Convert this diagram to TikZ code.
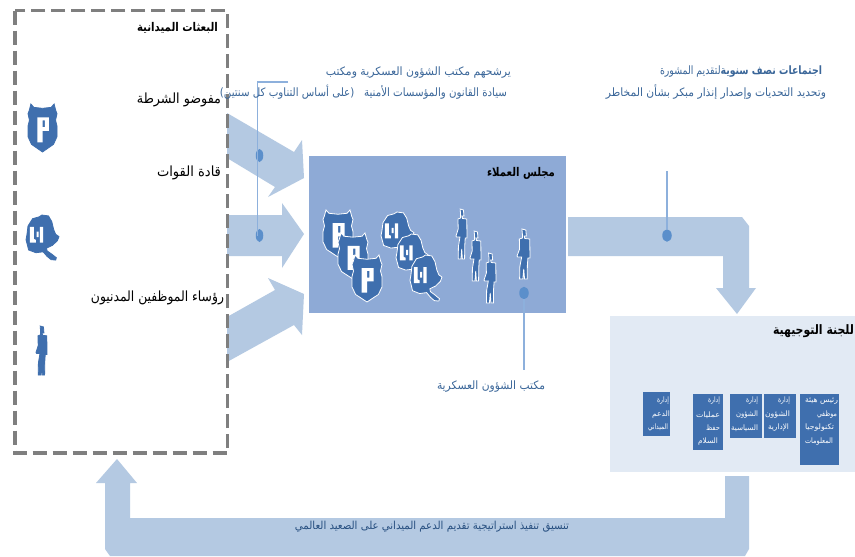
\documentclass[tikz,border=0pt]{standalone}
\usepackage{fontspec}
\usepackage{graphicx}
\newfontfamily\arabicfont[Script=Arabic]{DejaVu Sans}
\TeXXeTstate=1
\usetikzlibrary{shapes.geometric}
\definecolor{arrowblue}{HTML}{B4C9E2}
\definecolor{councilblue}{HTML}{8EAAD6}
\definecolor{steerblue}{HTML}{E2EAF4}
\definecolor{iconblue}{HTML}{3F6FAE}
\definecolor{calloutline}{HTML}{8DB0DC}
\definecolor{blobblue}{HTML}{5B8FCB}
\definecolor{bluetext}{HTML}{3A6699}
\definecolor{darkblue}{HTML}{274F80}
\definecolor{framegray}{HTML}{7F7F7F}
\newcommand{\ar}[3]{\fontsize{#1}{#1}\selectfont\resizebox*{#2pt}{\totalheight}{\arabicfont #3}}
\newcommand{\arb}[3]{\fontsize{#1}{#1}\selectfont\resizebox*{#2pt}{\totalheight}{\arabicfont\bfseries #3}}
\tikzset{
  x=1pt,y=-1pt,
  blockarrow/.style={fill=arrowblue,draw=none},
  lbl/.style={inner sep=0pt,outer sep=0pt,anchor=east},
  smalllbl/.style={lbl,text=white},
  callout/.style={draw=calloutline,line width=1.1pt},
  blobv/.style={ellipse,fill=blobblue,draw=none,minimum width=7.5pt,minimum height=13pt,inner sep=0pt},
  blobw/.style={ellipse,fill=blobblue,draw=none,minimum width=9.5pt,minimum height=12.5pt,inner sep=0pt},
  deptbox/.style={fill=iconblue,draw=none}
}
\newcommand{\shieldicon}[5]{\begin{scope}[shift={(#1,#2)},xscale=#3,yscale=#4]
 \filldraw[fill=iconblue,draw=#5,line width=.8pt] (.04,.14)--(.1,0)--(.2,.07)--(.5,.09)--(.8,.07)--(.9,0)--(.96,.14)--(1,.2)--(.95,.34)--(1,.46)--(1,.68)--(.88,.84)--(.5,1)--(.12,.84)--(0,.68)--(0,.46)--(.05,.34)--(0,.2)--cycle;
 \fill[white,even odd rule] (.32,.28)--(.72,.28)--(.72,.56)--(.5,.56)--(.5,.8)--(.32,.8)--cycle (.5,.34)--(.58,.34)--(.58,.48)--(.5,.48)--cycle;
\end{scope}}
\newcommand{\helmeticon}[5]{\begin{scope}[shift={(#1,#2)},xscale=#3,yscale=#4]
 \filldraw[fill=iconblue,draw=#5,line width=.8pt] (.06,.24)--(.2,.08)--(.4,.04)--(.48,0)--(.68,.02)--(.78,.14)--(.84,.32)--(.9,.42)--(1,.47)--(.95,.56)--(.8,.66)--(.62,.72)--(.64,.78)--(.78,.85)--(.92,.93)--(.9,.98)--(.76,.97)--(.64,.9)--(.52,.8)--(.3,.82)--(.08,.76)--(.03,.62)--(0,.54)--(.03,.42)--cycle;
 \fill[white] (.12,.26)--(.24,.26)--(.24,.52)--(.3,.54)--(.3,.6)--(.12,.6)--cycle (.42,.26)--(.52,.26)--(.52,.6)--(.42,.6)--cycle (.32,.36)--(.38,.36)--(.38,.48)--(.32,.48)--cycle;
\end{scope}}
\newcommand{\personicon}[5]{\begin{scope}[shift={(#1,#2)},xscale=#3,yscale=#4]
 \filldraw[fill=iconblue,draw=#5,line width=.8pt] (.38,0)--(.68,.02)--(.72,.14)--(.55,.14)--(.6,.19)--(.98,.2)--(1,.58)--(.84,.58)--(.8,.72)--(.78,1)--(.58,1)--(.52,.8)--(.45,1)--(.2,1)--(.22,.75)--(.36,.56)--(.05,.56)--(0,.54)--(.2,.4)--(.18,.2)--(.42,.18)--(.42,.12)--cycle;
\end{scope}}
\begin{document}
\begin{tikzpicture}
\useasboundingbox (0,0) rectangle (855,557);
\fill[white] (0,0) rectangle (855,557);
\path[fill=councilblue] (309,156) rectangle (566,313);
\path[fill=steerblue] (610,316) rectangle (855,472);
\path[blockarrow] (227,113)--(294,152)--(302,140)--(304,178)--(268,197)--(275,187)--(227,158)--cycle;
\path[blockarrow] (227,215)--(282,215)--(282,203)--(304,234)--(282,268)--(282,256)--(227,256)--cycle;
\path[blockarrow] (227,317)--(275,290)--(268,278)--(304,294)--(302,335)--(294,325)--(227,362)--cycle;
\path[blockarrow] (568,217)--(742,217)--(749,226)--(749,288)--(756,288)--(737,314)--(716,288)--(723,288)--(723,256)--(568,256)--cycle;
\path[blockarrow] (725,476)--(749,476)--(749,549)--(745,556)--(110,556)--(105,549)--(105,483)--(96,483)--(117,459)--(137,483)--(130,483)--(130,518)--(725,518)--cycle;
\coordinate (ca) at (288,82);
\coordinate (cb) at (257.5,82);
\coordinate (cc) at (667,171);
\coordinate (cd) at (524,370);
\node[blobv] (blobA) at (259.5,155.5) {};
\node[blobv] (blobB) at (259.5,235.5) {};
\node[blobw] (blobC) at (667,235.5) {};
\node[blobw] (blobD) at (524,293) {};
\draw[callout] (ca)--(cb)--(cb|-blobB);
\draw[callout] (cc)--(blobC);
\draw[callout] (blobD)--(cd);
\draw[draw=framegray,line width=3.7pt,dash pattern=on 14.5pt off 5.5pt] (15,10.5) rectangle (227.5,453);
\shieldicon{28}{104}{29}{48}{iconblue}
\helmeticon{26}{215}{33}{46}{iconblue}
\personicon{36}{326}{11}{49}{iconblue}
\shieldicon{323}{210}{30}{47}{white}
\shieldicon{338}{233}{30}{46}{white}
\shieldicon{352}{255}{30}{47}{white}
\helmeticon{381}{212}{33}{44}{white}
\helmeticon{396}{234}{32}{44}{white}
\helmeticon{410}{255}{32}{47}{white}
\personicon{456}{209}{11}{50}{white}
\personicon{470}{231}{11}{50}{white}
\personicon{484}{253}{12}{50}{white}
\personicon{517}{229}{13}{50}{white}
\path[deptbox] (643,392) rectangle (670,436);
\path[deptbox] (693,394) rectangle (723,450);
\path[deptbox] (730,394) rectangle (762,438);
\path[deptbox] (764,394) rectangle (796,438);
\path[deptbox] (800,394) rectangle (839,465);
\node[lbl] (t1) at (218,28) {\arb{12}{81}{\beginR البعثات الميدانية\endR}};
\node[lbl] (t2) at (221,100) {\ar{14}{84}{\beginR مفوضو الشرطة\endR}};
\node[lbl] (t3) at (221,173) {\ar{14}{64}{\beginR قادة القوات\endR}};
\node[lbl] (t4) at (224,298) {\ar{14}{133}{\beginR رؤساء الموظفين المدنيون\endR}};
\node[lbl,text=bluetext] (t5) at (511,73) {\ar{11.5}{185}{\beginR يرشحهم مكتب الشؤون العسكرية ومكتب\endR}};
\node[lbl,text=bluetext] (t6) at (507,92) {\ar{11.5}{287}{\beginR سيادة القانون والمؤسسات الأمنية \ \ (على أساس التناوب كل سنتين)\endR}};
\node[lbl,text=bluetext] (t7) at (822,72) {\ar{11.5}{162}{\beginR {\bfseries اجتماعات نصف سنوية}لتقديم المشورة\endR}};
\node[lbl,text=bluetext] (t8) at (826,92) {\ar{11.5}{220}{\beginR وتحديد التحديات وإصدار إنذار مبكر بشأن المخاطر\endR}};
\node[lbl] (t9) at (555,173) {\arb{12}{68}{\beginR مجلس العملاء\endR}};
\node[lbl] (t10) at (854,331) {\arb{13}{81}{\beginR للجنة التوجيهية\endR}};
\node[lbl,text=bluetext] (t11) at (545,387) {\ar{11.5}{108}{\beginR مكتب الشؤون العسكرية\endR}};
\node[lbl,text=darkblue] (t12) at (569,527) {\ar{11}{274}{\beginR تنسيق تنفيذ استراتيجية تقديم الدعم الميداني على الصعيد العالمي\endR}};
\node[smalllbl] (a1) at (669,401) {\ar{7.5}{12}{\beginR إدارة\endR}};
\node[smalllbl] (a2) at (670,415) {\ar{7.5}{18}{\beginR الدعم\endR}};
\node[smalllbl] (a3) at (668,428) {\ar{7.5}{20}{\beginR الميداني\endR}};
\node[smalllbl] (b1) at (720,401) {\ar{7.5}{12}{\beginR إدارة\endR}};
\node[smalllbl] (b2) at (720,415) {\ar{7.5}{24}{\beginR عمليات\endR}};
\node[smalllbl] (b3) at (720,428) {\ar{7.5}{14}{\beginR حفظ\endR}};
\node[smalllbl] (b4) at (718,442) {\ar{7.5}{20}{\beginR السلام\endR}};
\node[smalllbl] (d1) at (758,401) {\ar{7.5}{12}{\beginR إدارة\endR}};
\node[smalllbl] (d2) at (758,415) {\ar{7.5}{22}{\beginR الشؤون\endR}};
\node[smalllbl] (d3) at (758,428) {\ar{7.5}{27}{\beginR السياسية\endR}};
\node[smalllbl] (e1) at (790,401) {\ar{7.5}{12}{\beginR إدارة\endR}};
\node[smalllbl] (e2) at (790,415) {\ar{7.5}{25}{\beginR الشؤون\endR}};
\node[smalllbl] (e3) at (789,428) {\ar{7.5}{21}{\beginR الإدارية\endR}};
\node[smalllbl] (f1) at (838,401) {\ar{7.5}{33}{\beginR رئيس هيئة\endR}};
\node[smalllbl] (f2) at (837,415) {\ar{7.5}{20}{\beginR موظفي\endR}};
\node[smalllbl] (f3) at (834,428) {\ar{7.5}{29}{\beginR تكنولوجيا\endR}};
\node[smalllbl] (f4) at (833,442) {\ar{7.5}{28}{\beginR المعلومات\endR}};
\end{tikzpicture}
\end{document}
